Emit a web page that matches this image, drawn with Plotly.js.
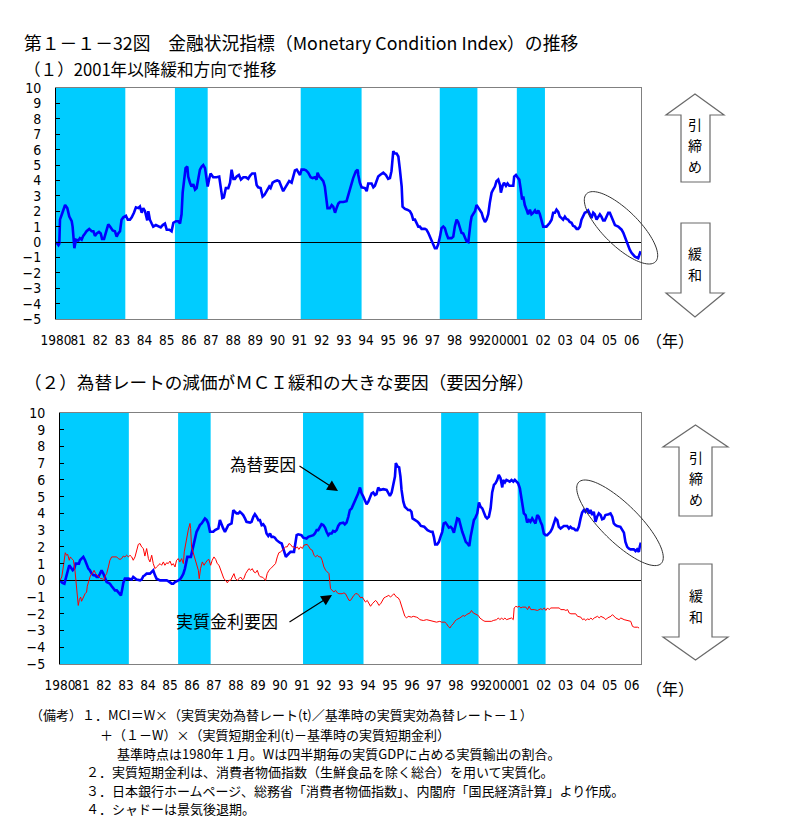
<!DOCTYPE html>
<html><head><meta charset="utf-8">
<script src="https://cdn.plot.ly/plotly-3.0.1.min.js"></script>
<style>html,body{margin:0;padding:0;background:#fff;}#chart{width:787px;height:828px;}</style>
</head><body><div id="chart"></div>
<script>
// ---------- DATA ----------
const yearTicks = [1980,1981,1982,1983,1984,1985,1986,1987,1988,1989,1990,1991,1992,1993,1994,1995,1996,1997,1998,1999,2000,2001,2002,2003,2004,2005,2006];
const yearTickText = ['1980','81','82','83','84','85','86','87','88','89','90','91','92','93','94','95','96','97','98','99','2000','01','02','03','04','05','06'];
const yTicks = [-5,-4,-3,-2,-1,0,1,2,3,4,5,6,7,8,9,10];
// recession (shadow) periods, decimal years
const recessionStart = [1980.0, 1985.37, 1991.05, 1997.33, 2000.81];
const recessionEnd   = [1983.13, 1986.85, 1993.80, 1999.03, 2002.08];

// Panel 1: MCI
const mciYear = [
1980.00,1980.11,1980.15,1980.18,1980.29,1980.41,1980.51,1980.60,1980.71,1980.75,1980.83,1980.90,
1981.01,1981.08,1981.16,1981.23,1981.31,1981.38,1981.50,1981.61,1981.69,1981.76,1981.84,1981.94,
1982.02,1982.08,1982.17,1982.26,1982.36,1982.44,1982.56,1982.66,1982.74,1982.81,1982.89,1982.96,
1983.04,1983.16,1983.24,1983.34,1983.42,1983.52,1983.61,1983.72,1983.79,1983.87,1983.94,
1984.02,1984.06,1984.12,1984.17,1984.24,1984.32,1984.39,1984.51,1984.62,1984.73,1984.82,1984.92,
1985.00,1985.12,1985.22,1985.30,1985.42,1985.52,1985.60,1985.67,1985.72,1985.78,1985.85,1985.93,1985.97,
1986.05,1986.12,1986.20,1986.28,1986.35,1986.43,1986.50,1986.58,1986.65,1986.73,1986.77,1986.85,1986.91,1986.98,
1987.10,1987.25,1987.37,1987.43,1987.51,1987.58,1987.67,1987.78,1987.86,1987.93,
1988.01,1988.08,1988.16,1988.26,1988.35,1988.46,1988.58,1988.68,1988.76,1988.86,1988.98,
1989.06,1989.13,1989.24,1989.33,1989.41,1989.51,1989.63,1989.69,1989.78,1989.89,1989.99,
1990.08,1990.19,1990.26,1990.34,1990.44,1990.53,1990.64,1990.71,1990.79,1990.87,1990.94,
1991.02,1991.09,1991.20,1991.29,1991.39,1991.50,1991.59,1991.69,1991.77,1991.81,1991.89,1991.96,
1992.07,1992.14,1992.22,1992.26,1992.37,1992.45,1992.52,1992.60,1992.67,1992.75,1992.82,1992.97,
1993.12,1993.20,1993.27,1993.35,1993.42,1993.54,1993.62,1993.65,1993.72,1993.80,1993.95,
1994.03,1994.10,1994.25,1994.33,1994.40,1994.48,1994.55,1994.63,1994.78,1994.90,
1995.00,1995.08,1995.15,1995.23,1995.30,1995.38,1995.46,1995.53,1995.61,1995.65,1995.76,1995.86,1995.98,
1996.06,1996.13,1996.21,1996.28,1996.36,1996.43,1996.51,1996.66,1996.73,1996.81,1996.88,1996.96,
1997.04,1997.11,1997.19,1997.26,1997.34,1997.41,1997.49,1997.56,1997.64,1997.71,1997.86,1997.94,
1998.01,1998.09,1998.16,1998.24,1998.31,1998.39,1998.46,1998.54,1998.62,1998.66,1998.72,1998.77,1998.84,1998.92,1998.99,
1999.07,1999.14,1999.22,1999.29,1999.37,1999.44,1999.52,1999.59,1999.67,1999.74,1999.82,1999.89,1999.97,
2000.05,2000.09,2000.17,2000.23,2000.32,2000.39,2000.47,2000.65,2000.69,2000.77,2000.84,2000.92,2000.98,
2001.05,2001.10,2001.13,2001.17,2001.25,2001.32,2001.40,2001.47,2001.55,2001.63,2001.70,2001.78,2001.85,2001.93,
2002.00,2002.15,2002.23,2002.30,2002.38,2002.45,2002.53,2002.60,2002.68,2002.75,2002.83,2002.90,2002.98,
2003.05,2003.13,2003.20,2003.28,2003.35,2003.43,2003.51,2003.58,2003.66,2003.73,2003.81,2003.88,2003.96,
2004.03,2004.11,2004.18,2004.26,2004.33,2004.41,2004.48,2004.56,2004.63,2004.71,2004.78,2004.86,2004.94,
2005.01,2005.09,2005.16,2005.24,2005.39,2005.54,2005.62,2005.69,2005.77,2005.84,2005.91,2005.99,
2006.06,2006.14,2006.29,2006.34,2006.40];
const mciValue = [
0,-0.2,-0.1,1.45,1.9,2.4,2.2,1.65,1.35,1.0,-0.4,0.15,
0.1,0.25,0.15,0.4,0.55,0.7,0.85,0.7,0.7,0.4,0.55,0.65,
0.55,0.2,0.2,0.75,1.15,1.0,0.75,0.7,0.35,0.55,0.7,1.45,
1.6,1.7,1.45,1.45,1.6,1.9,2.25,2.2,2.3,1.9,2.2,
2.0,1.65,1.4,2.0,1.45,1.2,1.0,1.1,1.0,0.95,1.1,1.2,
0.8,0.8,0.7,1.25,1.35,1.35,1.2,1.8,3.2,4.05,4.8,4.9,4.25,
3.85,3.6,3.75,3.4,3.5,4.05,4.7,4.9,5.0,4.8,4.25,3.6,4.05,4.45,
4.2,4.2,4.25,3.5,2.85,2.9,3.5,3.5,3.85,4.7,
4.1,4.1,4.25,4.35,4.05,4.2,4.2,4.1,4.3,4.45,4.45,
3.7,3.55,3.5,2.95,3.05,3.3,3.6,3.5,3.85,3.95,4.0,
3.95,3.5,3.3,3.5,3.7,3.95,3.85,4.25,4.65,4.7,4.55,
4.35,4.7,4.7,4.65,4.5,4.2,4.15,4.2,4.05,4.5,4.25,4.15,
3.95,3.6,2.85,2.2,2.2,2.4,2.3,1.9,2.2,2.5,2.6,2.6,
2.65,3.05,3.5,3.95,4.15,4.6,4.7,4.35,3.85,3.55,3.5,
3.3,3.8,3.8,3.55,3.65,4.05,4.25,4.35,4.5,4.35,
4.1,4.15,4.6,5.9,5.75,5.75,5.55,4.7,3.6,2.3,2.15,2.1,2.0,
1.8,1.45,1.45,1.2,1.0,1.0,0.85,0.85,0.8,0.6,0.35,0.15,
-0.15,-0.4,-0.4,-0.15,0.35,0.9,1.0,0.9,0.5,0.25,0.25,0.35,
1.0,1.45,1.3,0.95,0.6,0.55,0.35,0.05,0.0,0.7,1.25,1.65,1.8,2.0,2.4,
2.2,2.05,1.9,1.55,1.3,1.45,1.8,2.55,3.2,3.4,3.6,3.95,4.05,
3.7,3.2,3.65,3.85,3.65,3.8,3.65,3.65,4.25,4.35,4.2,4.05,3.5,
2.75,2.95,2.55,2.4,2.1,1.8,2.1,1.8,1.9,2.05,1.85,2.05,1.8,1.45,
1.0,1.0,1.1,1.25,1.45,1.9,1.9,2.1,1.95,1.65,1.55,1.45,1.65,
1.5,1.45,1.3,1.25,1.05,1.0,0.85,0.85,1.0,1.45,1.65,1.9,1.95,
2.05,1.8,1.55,1.9,1.8,1.45,1.65,1.8,1.65,1.4,1.4,1.7,1.9,
1.9,1.65,1.45,1.1,1.0,0.8,0.6,0.35,-0.05,-0.3,-0.5,-0.7,
-0.8,-0.95,-1.05,-0.8,-0.6];

// Panel 2: exchange-rate factor (為替要因)
const fxYear = [
1980.00,1980.11,1980.20,1980.27,1980.35,1980.42,1980.50,1980.58,1980.65,1980.71,1980.86,1980.91,1980.98,
1981.06,1981.14,1981.21,1981.29,1981.36,1981.44,1981.52,1981.59,1981.67,1981.74,1981.82,1981.89,1981.97,
1982.05,1982.12,1982.20,1982.27,1982.35,1982.42,1982.50,1982.58,1982.65,1982.73,1982.77,1982.82,1982.88,1982.95,
1983.11,1983.26,1983.33,1983.48,1983.64,1983.71,1983.79,1983.86,1983.94,
1984.09,1984.17,1984.24,1984.32,1984.39,1984.55,1984.85,1984.92,
1985.00,1985.08,1985.15,1985.23,1985.38,1985.45,1985.53,1985.61,1985.68,1985.73,1985.79,1985.95,
1986.00,1986.06,1986.11,1986.17,1986.21,1986.29,1986.36,1986.44,1986.52,1986.59,1986.67,1986.74,1986.82,1986.97,
1987.05,1987.20,1987.27,1987.35,1987.42,1987.50,1987.58,1987.65,1987.80,1987.88,1987.95,
1988.03,1988.11,1988.18,1988.26,1988.33,1988.41,1988.48,1988.64,1988.71,1988.79,1988.86,1988.94,
1989.02,1989.09,1989.17,1989.24,1989.32,1989.39,1989.47,1989.55,1989.62,1989.70,1989.77,1989.85,1989.92,
1990.00,1990.08,1990.15,1990.23,1990.27,1990.33,1990.41,1990.48,1990.64,1990.68,1990.76,1990.83,1990.98,
1991.06,1991.21,1991.29,1991.44,1991.52,1991.59,1991.67,1991.74,1991.82,1991.89,1991.97,
1992.05,1992.12,1992.20,1992.27,1992.35,1992.42,1992.50,1992.58,1992.65,1992.73,1992.88,1992.95,
1993.03,1993.11,1993.18,1993.26,1993.33,1993.41,1993.48,1993.56,1993.64,1993.71,1993.79,1993.86,1993.94,
1994.02,1994.09,1994.17,1994.24,1994.32,1994.39,1994.47,1994.55,1994.70,1994.85,1994.92,
1995.00,1995.08,1995.15,1995.23,1995.27,1995.35,1995.42,1995.48,1995.53,1995.61,1995.68,1995.76,1995.83,1995.91,1995.98,
1996.03,1996.18,1996.26,1996.33,1996.41,1996.56,1996.71,1996.86,1996.94,
1997.00,1997.06,1997.15,1997.23,1997.30,1997.38,1997.45,1997.53,1997.61,1997.68,1997.76,1997.83,1997.91,1997.98,
1998.06,1998.14,1998.21,1998.29,1998.36,1998.45,1998.53,1998.61,1998.67,1998.74,1998.82,1998.89,1998.97,
1999.05,1999.12,1999.20,1999.27,1999.35,1999.42,1999.50,1999.58,1999.65,1999.73,1999.80,1999.88,1999.95,
2000.03,2000.11,2000.15,2000.23,2000.30,2000.38,2000.45,2000.53,2000.61,2000.68,2000.76,2000.83,2000.91,2000.98,
2001.03,2001.09,2001.17,2001.24,2001.32,2001.39,2001.47,2001.55,2001.62,2001.70,2001.77,2001.85,2001.92,
2002.00,2002.08,2002.15,2002.23,2002.30,2002.38,2002.45,2002.53,2002.61,2002.68,2002.76,2002.83,2002.91,
2003.06,2003.14,2003.21,2003.29,2003.36,2003.44,2003.52,2003.59,2003.67,2003.74,2003.82,2003.89,2003.97,
2004.05,2004.12,2004.20,2004.27,2004.35,2004.42,2004.50,2004.58,2004.65,2004.73,2004.80,2004.95,
2005.03,2005.11,2005.18,2005.26,2005.33,2005.48,2005.56,2005.64,2005.71,2005.79,2005.86,2005.94,
2006.09,2006.17,2006.24,2006.32,2006.36,2006.41];
const fxValue = [
0,-0.15,-0.2,0.2,0.7,0.9,0.75,0.6,0.7,1.0,1.0,1.2,1.3,
1.4,1.2,0.9,0.7,0.6,0.4,0.3,0.3,0.2,0.2,0.4,0.6,0.4,
0.1,-0.1,-0.15,-0.2,-0.35,-0.5,-0.6,-0.6,-0.7,-0.8,-0.9,-0.6,-0.15,0.1,
0.1,0.05,0.2,0.05,0.0,0.05,0.25,0.3,0.4,
0.4,0.5,0.6,0.3,0.1,0.0,0.0,-0.05,
-0.15,-0.2,-0.2,-0.1,0.0,0.05,0.2,0.4,0.7,1.1,1.4,1.4,
1.7,2.0,2.3,2.6,2.9,3.1,3.3,3.4,3.6,3.7,3.6,3.4,2.9,2.9,
3.0,3.1,3.6,3.3,3.1,2.9,3.1,3.3,3.4,4.2,4.1,
4.0,4.0,4.1,4.0,3.9,3.7,3.5,3.45,3.5,3.8,3.95,3.8,
3.6,3.6,3.3,3.35,3.2,2.8,2.65,2.8,2.6,2.6,2.55,2.4,2.3,
2.25,2.2,1.85,1.6,1.4,1.5,1.6,1.7,1.7,2.1,2.7,2.75,2.7,
2.55,2.5,2.6,2.65,2.7,2.8,3.0,3.0,3.15,3.35,3.3,
3.15,2.9,2.7,2.8,2.8,2.95,2.9,3.0,3.25,3.4,3.45,3.35,
3.45,3.8,4.2,4.3,4.5,4.8,4.9,5.2,5.55,5.2,5.0,4.8,4.55,
4.7,5.0,5.2,5.25,5.1,5.15,5.55,5.4,5.45,5.4,5.2,
5.05,5.25,5.7,6.2,7.0,6.8,6.75,6.2,5.4,4.7,4.4,4.3,4.2,4.2,4.1,
3.7,3.6,3.5,3.4,3.25,3.2,3.0,2.9,2.9,
2.6,2.15,2.15,2.3,2.6,2.9,3.4,3.45,3.3,3.15,3.2,3.1,2.85,3.3,
3.7,3.65,3.2,2.9,2.65,2.3,2.2,2.05,2.6,3.2,3.6,3.75,4.0,
4.65,4.4,4.3,4.05,3.8,3.7,3.8,4.3,5.25,5.7,5.8,6.0,6.3,
6.1,5.55,6.0,5.85,6.0,5.95,5.9,6.0,5.9,6.0,5.9,5.8,5.5,4.9,
4.45,4.0,3.9,3.45,3.6,3.5,3.7,3.5,3.4,3.9,3.8,3.5,3.3,
2.8,2.7,2.7,2.8,2.9,3.1,3.35,3.7,3.6,3.2,3.1,3.2,3.25,
3.25,3.1,3.2,3.1,3.1,3.0,3.0,3.2,3.7,4.05,4.2,4.1,4.3,
4.0,4.2,3.9,4.1,3.5,3.8,4.0,3.9,3.65,3.7,3.9,3.95,
4.0,3.8,3.4,3.3,3.25,3.2,3.0,2.85,2.3,2.0,1.9,1.85,
1.85,1.75,1.85,1.7,2.0,2.25];

// Panel 2: real interest-rate factor (実質金利要因)
const rateYear = [
1980.00,1980.08,1980.15,1980.20,1980.24,1980.30,1980.35,1980.42,1980.47,1980.53,1980.61,1980.68,1980.76,1980.83,1980.88,1980.94,1980.98,
1981.06,1981.14,1981.21,1981.24,1981.32,1981.39,1981.47,1981.55,1981.62,1981.70,1981.77,1981.85,1981.92,
1982.00,1982.05,1982.12,1982.20,1982.27,1982.35,1982.58,1982.65,1982.73,1982.80,1982.88,1982.95,
1983.03,1983.11,1983.18,1983.26,1983.33,1983.41,1983.48,1983.56,1983.64,1983.71,1983.79,1983.86,1983.94,
1984.02,1984.09,1984.17,1984.24,1984.32,1984.39,1984.47,1984.55,1984.62,1984.70,1984.77,1984.85,1984.92,
1985.00,1985.08,1985.15,1985.23,1985.30,1985.38,1985.45,1985.53,1985.61,1985.65,1985.71,1985.76,1985.83,1985.91,1985.94,1985.98,
1986.06,1986.14,1986.21,1986.29,1986.33,1986.39,1986.47,1986.55,1986.62,1986.70,1986.77,1986.85,1986.92,
1987.00,1987.08,1987.15,1987.23,1987.30,1987.38,1987.45,1987.53,1987.61,1987.68,1987.76,1987.83,1987.91,1987.98,
1988.06,1988.14,1988.21,1988.29,1988.36,1988.44,1988.52,1988.59,1988.67,1988.74,1988.82,1988.89,1988.97,
1989.05,1989.12,1989.20,1989.27,1989.35,1989.42,1989.50,1989.58,1989.65,1989.73,1989.80,1989.88,1989.95,
1990.03,1990.11,1990.18,1990.26,1990.33,1990.41,1990.48,1990.56,1990.64,1990.71,1990.79,1990.86,1990.94,
1991.02,1991.09,1991.17,1991.24,1991.32,1991.39,1991.47,1991.55,1991.62,1991.70,1991.77,1991.85,1991.92,
1992.00,1992.08,1992.15,1992.23,1992.30,1992.38,1992.45,1992.53,1992.61,1992.68,1992.83,1992.91,1992.98,
1993.06,1993.14,1993.21,1993.29,1993.36,1993.44,1993.52,1993.59,1993.67,1993.74,1993.82,1993.89,1993.97,
1994.05,1994.12,1994.20,1994.27,1994.35,1994.42,1994.50,1994.58,1994.65,1994.73,1994.80,1994.95,
1995.03,1995.11,1995.18,1995.30,1995.38,1995.45,1995.53,1995.61,1995.68,1995.76,1995.83,1995.98,
1996.06,1996.21,1996.29,1996.36,1996.52,1996.67,1996.82,1996.97,
1997.12,1997.27,1997.35,1997.50,1997.58,1997.65,1997.73,1997.80,1997.88,1997.95,
1998.03,1998.18,1998.26,1998.33,1998.41,1998.48,1998.64,1998.71,1998.79,1998.86,1998.94,
1999.02,1999.09,1999.17,1999.24,1999.32,1999.62,1999.70,1999.85,1999.93,
2000.00,2000.08,2000.15,2000.23,2000.30,2000.53,2000.61,2000.65,2000.73,2000.80,2000.88,2000.95,
2001.03,2001.18,2001.26,2001.33,2001.41,2001.56,2001.71,2001.86,2001.94,
2002.02,2002.09,2002.17,2002.24,2002.32,2002.70,2002.77,2002.92,
2003.00,2003.08,2003.15,2003.23,2003.45,2003.53,2003.68,2003.76,2003.83,2003.91,2003.98,
2004.06,2004.14,2004.21,2004.29,2004.36,2004.44,2004.52,2004.59,2004.74,2004.82,2004.89,2004.97,
2005.05,2005.12,2005.20,2005.27,2005.42,2005.50,2005.65,2005.80,2005.88,2005.95,
2006.03,2006.11,2006.26,2006.33];
const rateValue = [
0,0.2,0.8,1.3,1.65,1.5,1.55,1.2,1.4,1.3,1.2,0.6,-0.4,-1.5,-1.15,-1.0,-1.25,
-1.0,-0.8,-0.7,-0.35,0.0,0.3,0.4,0.6,0.4,0.3,0.25,0.1,0.1,
0.0,0.25,0.4,0.8,1.2,1.4,1.4,1.3,1.25,1.3,1.45,1.4,
1.5,1.4,1.5,1.4,1.2,1.4,1.8,2.15,2.2,2.0,1.9,1.45,1.9,
1.3,1.1,1.5,1.0,0.7,0.8,0.9,1.0,0.9,1.1,0.9,1.05,1.0,
1.15,0.9,1.0,0.8,1.2,1.3,1.1,1.3,1.0,1.7,2.2,2.5,3.0,3.4,3.1,2.0,
1.6,1.2,0.9,0.6,0.1,0.7,1.1,0.9,1.05,1.2,1.25,0.9,1.2,
1.4,1.25,1.0,0.9,0.6,0.4,0.1,0.0,-0.15,0.0,0.0,0.2,0.4,0.1,
0.0,0.1,0.2,0.05,0.1,0.4,0.6,0.7,0.6,0.7,0.5,0.45,0.6,
0.3,0.2,0.2,0.1,0.0,0.4,0.6,0.7,0.8,0.9,1.0,1.4,1.65,
1.7,1.8,1.85,2.0,2.0,2.2,2.15,2.0,2.0,1.9,2.0,1.85,2.0,
1.9,2.1,2.15,2.15,2.0,1.85,1.8,1.5,1.4,1.5,1.4,1.4,1.2,
0.8,0.6,0.5,0.4,-0.5,-0.6,-0.7,-0.6,-0.75,-0.8,-0.8,-0.75,-0.8,
-1.0,-1.2,-1.2,-1.0,-0.9,-0.8,-0.8,-0.9,-1.05,-1.0,-1.2,-1.3,-1.2,
-1.35,-1.55,-1.4,-1.3,-1.2,-1.3,-1.5,-1.4,-1.2,-1.05,-1.0,-0.9,
-1.0,-0.9,-0.8,-1.0,-1.05,-1.2,-1.55,-1.95,-2.15,-2.25,-2.15,-2.2,
-2.15,-2.2,-2.25,-2.35,-2.4,-2.35,-2.4,-2.45,
-2.5,-2.45,-2.5,-2.5,-2.6,-2.75,-2.85,-2.7,-2.6,-2.45,
-2.35,-2.25,-2.15,-2.1,-2.15,-2.05,-1.95,-1.8,-1.95,-2.0,-2.05,
-2.1,-2.25,-2.35,-2.4,-2.45,-2.45,-2.4,-2.35,-2.25,
-2.35,-2.25,-2.35,-2.25,-2.35,-2.25,-2.35,-1.65,-1.55,-1.6,-1.55,-1.65,
-1.6,-1.6,-1.75,-1.55,-1.75,-1.75,-1.8,-1.7,-1.75,
-1.65,-1.8,-1.65,-1.75,-1.65,-1.65,-1.75,-1.75,
-1.8,-1.75,-1.95,-2.0,-2.0,-2.15,-2.2,-2.35,-2.3,-2.4,-2.3,
-2.35,-2.25,-2.35,-2.25,-2.2,-2.15,-2.25,-2.15,-2.25,-2.35,-2.25,-2.2,
-2.15,-2.05,-2.15,-2.25,-2.35,-2.25,-2.35,-2.4,-2.45,-2.45,
-2.75,-2.8,-2.8,-2.85];

// Notes (備考)
const noteLines = [
  '（備考）１．MCI＝W×（実質実効為替レート(t)／基準時の実質実効為替レート－１）',
  '＋（１－W）×（実質短期金利(t)－基準時の実質短期金利）',
  '基準時点は1980年１月。Wは四半期毎の実質GDPに占める実質輸出の割合。',
  '２．実質短期金利は、消費者物価指数（生鮮食品を除く総合）を用いて実質化。',
  '３．日本銀行ホームページ、総務省「消費者物価指数」、内閣府「国民経済計算」より作成。',
  '４．シャドーは景気後退期。'
];

// ---------- LAYOUT HELPERS (pixel -> paper) ----------
const W = 787, H = 828;
const px = x => x / W;
const py = y => 1 - y / H;
const JP = '"Noto Sans CJK JP", "Noto Sans", sans-serif';
const NUM = '"Liberation Sans Narrow", "DejaVu Sans Condensed", "Liberation Sans", sans-serif';
const CYAN = '#00CCFF';

function polyPath(pts) {
  return 'M' + pts.map(p => px(p[0]).toFixed(5) + ',' + py(p[1]).toFixed(5)).join(' L') + ' Z';
}
function ellipsePath(cx, cy, a, b, deg) {
  const th = deg * Math.PI / 180, pts = [];
  for (let i = 0; i < 96; i++) {
    const t = 2 * Math.PI * i / 96;
    const ex = a * Math.cos(t), ey = b * Math.sin(t);
    pts.push([cx + ex * Math.cos(th) - ey * Math.sin(th), cy + ex * Math.sin(th) + ey * Math.cos(th)]);
  }
  return polyPath(pts);
}

const shapes = [];
[['x', 'y'], ['x2', 'y2']].forEach(([xr, yr]) => {
  recessionStart.forEach((s, i) => {
    shapes.push({type: 'rect', xref: xr, yref: yr + ' domain', x0: s, x1: recessionEnd[i], y0: 0, y1: 1,
      fillcolor: CYAN, line: {width: 0}, layer: 'below'});
  });
  shapes.push({type: 'line', xref: xr + ' domain', yref: yr + ' domain', x0: 1, x1: 1, y0: 0, y1: 1,
    line: {color: '#808080', width: 1}});
});
// ellipses
shapes.push({type: 'path', xref: 'paper', yref: 'paper', path: ellipsePath(621, 227.8, 48.4, 17.7, 44.5), line: {color: '#333', width: 1}});
shapes.push({type: 'path', xref: 'paper', yref: 'paper', path: ellipsePath(620, 522.8, 57.9, 18.8, 44.6), line: {color: '#333', width: 1}});
// block arrows
const arrowStyle = {fillcolor: '#fff', line: {color: '#6a6a6a', width: 1.2}};
const arrows = [
  [[695,94],[724,115],[710,115],[710,182],[681,182],[681,115],[666,115]],
  [[681,223],[710,223],[710,293],[724,293],[695,317],[666,293],[681,293]],
  [[695.5,425],[728,447],[712,447],[712,516],[679,516],[679,447],[663,447]],
  [[679,564],[712,564],[712,637],[728,637],[695.5,660],[663,637],[679,637]]
];
arrows.forEach(a => shapes.push(Object.assign({type: 'path', xref: 'paper', yref: 'paper', path: polyPath(a)}, arrowStyle)));

function txt(text, x, y, size, anchor) {
  return {text: text, xref: 'paper', yref: 'paper', x: px(x), y: py(y), xanchor: anchor || 'left', yanchor: 'middle',
    showarrow: false, font: {family: JP, size: size, color: '#000'}};
}
const annotations = [
  txt('第１－１－32図　金融状況指標（Monetary Condition Index）の推移', 22, 42, 17.8),
  txt('（１）2001年以降緩和方向で推移', 22, 68.5, 16.6),
  txt('（２）為替レートの減価がＭＣＩ緩和の大きな要因（要因分解）', 22, 381, 17.6),
  txt('（年）', 670, 340, 16, 'center'),
  txt('（年）', 670, 688, 16, 'center'),
  txt('為替要因', 228, 464, 16.5),
  txt('実質金利要因', 174, 620, 17),
  {text: '', xref: 'paper', yref: 'paper', x: px(338), y: py(491), ax: -40, ay: -26, showarrow: true,
    arrowhead: 2, arrowsize: 1.8, arrowwidth: 1.2, arrowcolor: '#000'},
  {text: '', xref: 'paper', yref: 'paper', x: px(332), y: py(595), ax: -44, ay: 28, showarrow: true,
    arrowhead: 2, arrowsize: 1.8, arrowwidth: 1.2, arrowcolor: '#000'}
];
// vertical labels inside the block arrows, one character each
[['引', 695, 124], ['締', 695, 145], ['め', 695, 166], ['緩', 695, 253], ['和', 695, 274],
 ['引', 695.5, 457], ['締', 695.5, 478], ['め', 695.5, 499], ['緩', 695.5, 595], ['和', 695.5, 616]]
  .forEach(([c, x, y]) => annotations.push(txt(c, x, y, 14, 'center')));
// notes, one annotation per line
const noteX = [28, 98, 115, 84, 84, 84];
const noteY = [714.5, 734.5, 753, 771.5, 790, 808.5];
noteLines.forEach((t, i) => annotations.push(txt(t, noteX[i], noteY[i], 13)));

function xAxis(dom, anchor) {
  return {domain: dom, anchor: anchor, range: [1980, 2006.44], tickmode: 'array', tickvals: yearTicks, ticktext: yearTickText,
    showgrid: false, zeroline: false, showline: true, linecolor: '#808080', linewidth: 1, mirror: true,
    ticks: '', tickangle: 0, ticklabelstandoff: 9, tickfont: {family: NUM, size: 13.5, color: '#000'}, fixedrange: true};
}
function yAxis(dom, anchor) {
  return {domain: dom, anchor: anchor, range: [-5, 10], tickmode: 'array', tickvals: yTicks,
    showgrid: false, zeroline: true, zerolinecolor: '#000', zerolinewidth: 1,
    showline: true, linecolor: '#000', linewidth: 1, ticks: 'inside', ticklen: 4, tickcolor: '#000',
    ticklabelstandoff: 11, tickfont: {family: NUM, size: 14, color: '#000'}, fixedrange: true};
}

const data = [
  {x: mciYear, y: mciValue, xaxis: 'x', yaxis: 'y', type: 'scatter', mode: 'lines', line: {color: '#0000FF', width: 2.6}, hoverinfo: 'skip'},
  {x: fxYear, y: fxValue, xaxis: 'x2', yaxis: 'y2', type: 'scatter', mode: 'lines', line: {color: '#0000FF', width: 2.6}, hoverinfo: 'skip'},
  {x: rateYear, y: rateValue, xaxis: 'x2', yaxis: 'y2', type: 'scatter', mode: 'lines', line: {color: '#FF0000', width: 1}, hoverinfo: 'skip'}
];

const layout = {
  width: W, height: H, margin: {l: 0, r: 0, t: 0, b: 0},
  paper_bgcolor: '#fff', plot_bgcolor: '#fff', showlegend: false,
  font: {family: JP, color: '#000'},
  xaxis: xAxis([px(56), px(641.5)], 'y'),
  yaxis: yAxis([py(319), py(88)], 'x'),
  xaxis2: xAxis([px(60), px(641.5)], 'y2'),
  yaxis2: yAxis([py(664), py(413)], 'x2'),
  shapes: shapes,
  annotations: annotations
};
Plotly.newPlot('chart', data, layout, {displayModeBar: false, staticPlot: true});
</script>
</body></html>
